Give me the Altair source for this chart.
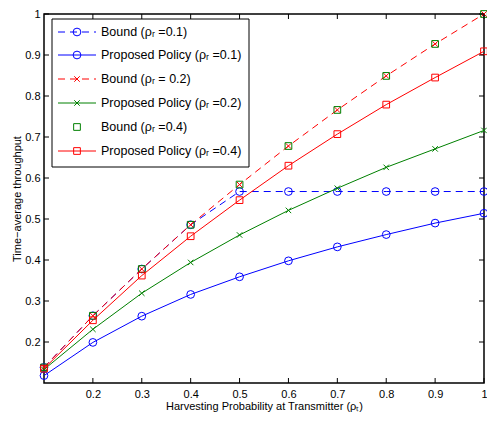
import altair as alt
import pandas as pd

# ---------------- data ----------------
x_vals = [0.1, 0.2, 0.3, 0.4, 0.5, 0.6, 0.7, 0.8, 0.9, 1.0]
bound_r01 = [0.138, 0.264, 0.378, 0.486, 0.567, 0.567, 0.567, 0.567, 0.567, 0.567]
policy_r01 = [0.118, 0.199, 0.263, 0.316, 0.359, 0.398, 0.432, 0.462, 0.490, 0.514]
bound_r02 = [0.138, 0.264, 0.378, 0.486, 0.584, 0.678, 0.766, 0.849, 0.927, 1.0]
policy_r02 = [0.133, 0.231, 0.319, 0.394, 0.461, 0.521, 0.575, 0.626, 0.671, 0.716]
bound_r04 = [0.138, 0.264, 0.378, 0.486, 0.584, 0.678, 0.766, 0.849, 0.927, 1.0]
policy_r04 = [0.135, 0.253, 0.362, 0.458, 0.546, 0.630, 0.707, 0.779, 0.845, 0.909]

legend_labels = [
    "Bound (ρᵣ =0.1)",
    "Proposed Policy (ρᵣ =0.1)",
    "Bound (ρᵣ = 0.2)",
    "Proposed Policy (ρᵣ  =0.2)",
    "Bound (ρᵣ =0.4)",
    "Proposed Policy (ρᵣ =0.4)",
]
x_ticks = [0.2, 0.3, 0.4, 0.5, 0.6, 0.7, 0.8, 0.9, 1.0]
y_ticks = [0.2, 0.3, 0.4, 0.5, 0.6, 0.7, 0.8, 0.9, 1.0]
x_title = "Harvesting Probability at Transmitter (ρₜ)"
y_title = "Time−average throughput"

# ---------------- styling ----------------
W, H = 440, 369
FONT = "Liberation Sans"
BLUE, RED, GREEN = "#0000FF", "#FF0000", "#008000"
XSHAPE = "M-1,-1L1,1M-1,1L1,-1"
DASH = [7, 5]

series = [
    # values, color, dashed, shape, has_line, size
    (bound_r01, BLUE, True, "circle", True, 60),
    (policy_r01, BLUE, False, "circle", True, 60),
    (bound_r02, RED, True, XSHAPE, True, 30),
    (policy_r02, GREEN, False, XSHAPE, True, 30),
    (bound_r04, GREEN, False, "square", False, 45),
    (policy_r04, RED, False, "square", True, 45),
]

xs = alt.Scale(domain=[0.1, 1.0], nice=False, zero=False)
ys = alt.Scale(domain=[0.1, 1.0], nice=False, zero=False)

x_axis = alt.Axis(values=x_ticks, format=".1~f", ticks=False, grid=False, domain=False,
                  labelPadding=5, labelFontSize=11, labelFont=FONT, labelColor="black",
                  title=x_title, titleFont=FONT, titleFontSize=11, titleFontWeight="normal",
                  titleColor="black", titlePadding=1, labelFlush=False)
y_axis = alt.Axis(values=y_ticks, format=".1~f", ticks=False, grid=False, domain=False,
                  labelPadding=4, labelFontSize=11, labelFont=FONT, labelColor="black",
                  title=y_title, titleFont=FONT, titleFontSize=11, titleFontWeight="normal",
                  titleColor="black", titlePadding=2, labelFlush=False)

layers = []
for i, (vals, color, dashed, shape, has_line, size) in enumerate(series):
    df = pd.DataFrame({"x": x_vals, "y": vals})
    base = alt.Chart(df)
    enc = dict(x=alt.X("x:Q", scale=xs, axis=x_axis),
               y=alt.Y("y:Q", scale=ys, axis=y_axis))
    if has_line:
        kw = dict(color=color, strokeWidth=1)
        if dashed:
            kw["strokeDash"] = DASH
        layers.append(base.mark_line(**kw).encode(**enc))
    layers.append(base.mark_point(shape=shape, filled=False, color=color, size=size,
                                  strokeWidth=1, opacity=1).encode(**enc))

# inward ticks on all four sides
tick_len = 5
xt = alt.Chart(pd.DataFrame({"x": x_ticks}))
yt = alt.Chart(pd.DataFrame({"y": y_ticks}))
layers.append(xt.mark_rule(color="black", strokeWidth=1).encode(
    x=alt.X("x:Q", scale=xs, axis=x_axis), y=alt.value(H), y2=alt.value(H - tick_len)))
layers.append(xt.mark_rule(color="black", strokeWidth=1).encode(
    x=alt.X("x:Q", scale=xs, axis=x_axis), y=alt.value(0), y2=alt.value(tick_len)))
layers.append(yt.mark_rule(color="black", strokeWidth=1).encode(
    y=alt.Y("y:Q", scale=ys, axis=y_axis), x=alt.value(0), x2=alt.value(tick_len)))
layers.append(yt.mark_rule(color="black", strokeWidth=1).encode(
    y=alt.Y("y:Q", scale=ys, axis=y_axis), x=alt.value(W), x2=alt.value(W - tick_len)))

# legend box (drawn manually to show line + marker samples)
one = alt.Chart(pd.DataFrame({"a": [0]}))
lx0, lx1, ly0, ly1 = 8, 205, 5, 153
layers.append(one.mark_rect(fill="white", stroke="black", strokeWidth=1).encode(
    x=alt.value(lx0), x2=alt.value(lx1), y=alt.value(ly0), y2=alt.value(ly1)))
row_y = [18, 41, 65, 89, 113, 137]
for (vals, color, dashed, shape, has_line, size), label, ry in zip(series, legend_labels, row_y):
    if has_line:
        kw = dict(color=color, strokeWidth=1)
        if dashed:
            kw["strokeDash"] = DASH
        layers.append(one.mark_rule(**kw).encode(
            x=alt.value(14), x2=alt.value(52), y=alt.value(ry)))
    layers.append(one.mark_point(shape=shape, filled=False, color=color, size=size,
                                 strokeWidth=1, opacity=1).encode(
        x=alt.value(33), y=alt.value(ry)))
    layers.append(one.mark_text(text=label, align="left", baseline="middle", font=FONT,
                                fontSize=12.5, color="black").encode(
        x=alt.value(57), y=alt.value(ry)))

chart = alt.layer(*layers).properties(
    width=W, height=H,
    autosize=alt.AutoSizeParams(type="none"),
    padding={"left": 36, "top": 6, "right": 3, "bottom": 32},
).configure_view(stroke="black", strokeWidth=1.5)

chart.save("out.html", embed_options={"renderer": "svg", "actions": False})
